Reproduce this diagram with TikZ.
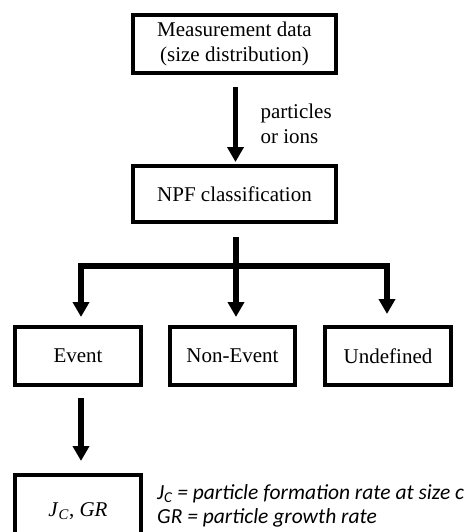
\documentclass[tikz,border=0pt]{standalone}
\usepackage{fontspec}
\setmainfont{Liberation Serif}
\newfontfamily\calfont{Carlito}
\usetikzlibrary{arrows.meta}
\tikzset{
  box/.style={draw, line width=3.5pt, inner sep=0pt, align=center, font=\fontsize{21}{25}\selectfont},
  flow/.style={line width=5.5pt, -{Triangle[width=16pt,length=15pt]}},
  barline/.style={line width=5.5pt},
}
\begin{document}
\begin{tikzpicture}[x=1pt,y=-1pt]
\useasboundingbox (0,0) rectangle (465,532);
\node[box, minimum width=203pt, minimum height=58pt] (meas) at (234.5,44) {Measurement data\\(size distribution)};
\node[box, minimum width=203pt, minimum height=56pt] (npf) at (234.5,194) {NPF classification};
\node[box, minimum width=126pt, minimum height=58pt] (ev) at (78,356) {Event};
\node[box, minimum width=125pt, minimum height=58pt] (nev) at (232.5,356) {Non-Event};
\node[box, minimum width=126pt, minimum height=58pt] (und) at (388,356) {Undefined};
\node[box, minimum width=126pt, minimum height=72pt] (jc) at (78,510.75) {\textit{J}\textsubscript{\textit{C}}, \textit{GR}};
\node[anchor=west, align=left, font=\fontsize{21}{25}\selectfont] (lab) at (257,123.5) {particles\\or ions};
\node[anchor=west, align=left, inner sep=0pt, font=\calfont\itshape\fontsize{21.5}{24}\selectfont] (legend) at (157,506) {J\textsubscript{C} = particle formation rate at size c\\GR = particle growth rate};
\coordinate (a1s) at (235.5,87);
\coordinate (a1e) at (235.5,162);
\draw[flow] (a1s) -- (a1e);
\coordinate (stem) at (236,237);
\coordinate (bar) at (236,266);
\coordinate (bl) at (81,266);
\coordinate (br) at (387,266);
\draw[barline] (stem) -- (bar);
\draw[flow] (bar) -- (bl) -- (81,317);
\draw[flow] (bar) -- (br) -- (387,314);
\draw[flow] (bar) -- (236,317);
\coordinate (a2s) at (81,398);
\coordinate (a2e) at (81,461);
\draw[flow] (a2s) -- (a2e);
\end{tikzpicture}
\end{document}
